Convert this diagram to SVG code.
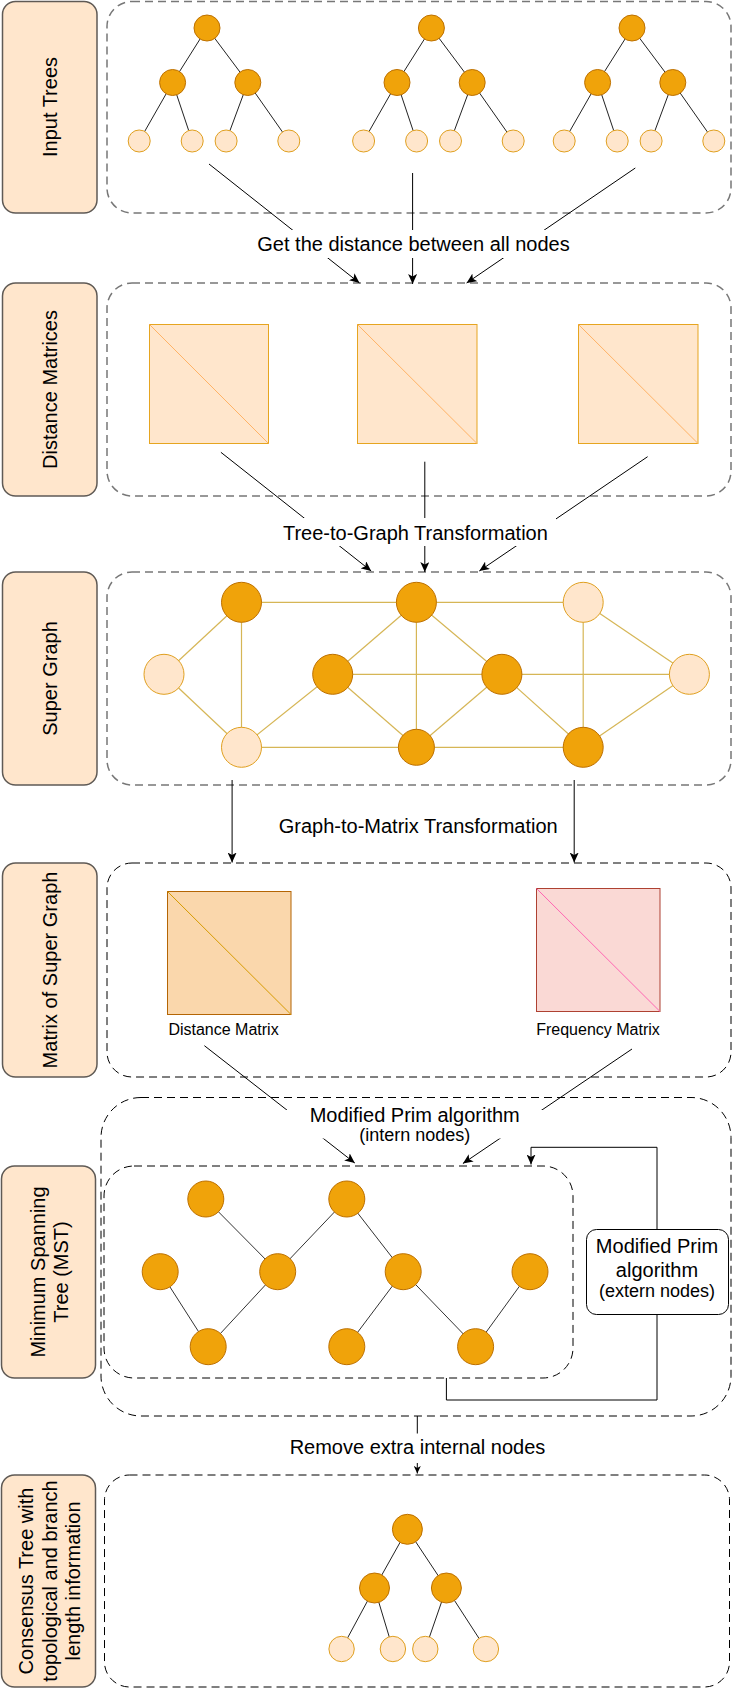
<svg xmlns="http://www.w3.org/2000/svg" width="733" height="1688" viewBox="0 0 733 1688">
<style>
text{font-family:"Liberation Sans",Arial,sans-serif;fill:#000}
.lbl{fill:#ffe6cc;stroke:#5f5a55;stroke-width:1.5}
.cg{fill:none;stroke:#777;stroke-width:1.5;stroke-dasharray:8 5}
.cb{fill:none;stroke:#000;stroke-width:1;stroke-dasharray:8 5}
.dk{fill:#f0a30a;stroke:#bd7000;stroke-width:1}
.lt{fill:#ffe6cc;stroke:#e0a020;stroke-width:1}
.te{stroke:#222;stroke-width:1}
.ge{stroke:#d6b656;stroke-width:1.2}
.me{stroke:#333;stroke-width:1}
.ar{fill:none;stroke:#000;stroke-width:1}
.t20{font-size:20px;text-anchor:middle}
.t18{font-size:18px;text-anchor:middle}
.t16{font-size:16px;text-anchor:middle}
</style>
<defs>
<marker id="ah" markerWidth="11" markerHeight="9" refX="10" refY="4.5" orient="auto" markerUnits="userSpaceOnUse">
<path d="M0,0 L10,4.5 L0,9 L2.5,4.5 Z" fill="#000"/>
</marker>
<marker id="ahs" markerWidth="8" markerHeight="7" refX="7.5" refY="3.5" orient="auto" markerUnits="userSpaceOnUse">
<path d="M0,0 L7.5,3.5 L0,7 L2,3.5 Z" fill="#000"/>
</marker>
</defs>
<rect width="733" height="1688" fill="#fff"/>

<!-- Stage labels -->
<g id="label-input">
<rect class="lbl" x="2.5" y="1.5" width="94.5" height="211.5" rx="13"/>
<text class="t20" transform="translate(49.5,107) rotate(-90)" y="7">Input Trees</text>
</g>
<g id="label-distance">
<rect class="lbl" x="2.5" y="283" width="94.5" height="213" rx="13"/>
<text class="t20" transform="translate(49.5,389.5) rotate(-90)" y="7">Distance Matrices</text>
</g>
<g id="label-super">
<rect class="lbl" x="2.5" y="572" width="94.5" height="213" rx="13"/>
<text class="t20" transform="translate(49.5,678.5) rotate(-90)" y="7">Super Graph</text>
</g>
<g id="label-matrix">
<rect class="lbl" x="2.5" y="863" width="94.5" height="214" rx="13"/>
<text class="t20" transform="translate(49.5,970) rotate(-90)" y="7">Matrix of Super Graph</text>
</g>
<g id="label-mst">
<rect class="lbl" x="1.5" y="1166" width="94" height="212" rx="13"/>
<text class="t20" transform="translate(48.5,1272) rotate(-90)"><tspan x="0" y="-4">Minimum Spanning</tspan><tspan x="0" y="19.5">Tree (MST)</tspan></text>
</g>
<g id="label-consensus">
<rect class="lbl" x="1.5" y="1475" width="94" height="212" rx="13"/>
<text class="t20" transform="translate(49,1581) rotate(-90)"><tspan x="0" y="-16">Consensus Tree with</tspan><tspan x="0" y="7.5">topological and branch</tspan><tspan x="0" y="31">length information</tspan></text>
</g>

<!-- Containers -->
<g id="container-input"><rect class="cg" x="107" y="1.5" width="624" height="211.5" rx="25"/></g>
<g id="container-distance"><rect class="cg" x="107" y="283" width="624" height="213" rx="25"/></g>
<g id="container-super"><rect class="cg" x="107" y="572" width="624" height="213" rx="25"/></g>
<g id="container-matrix"><rect class="cb" x="107" y="863" width="624" height="214" rx="25"/></g>
<g id="container-mst-outer"><rect class="cb" x="101" y="1097.5" width="630" height="318.5" rx="40"/></g>
<g id="container-mst-inner"><rect class="cb" x="104" y="1166" width="469" height="212" rx="30"/></g>
<g id="container-consensus"><rect class="cb" x="104.5" y="1475" width="625" height="212" rx="25"/></g>

<!-- Input trees -->
<g id="tree1">
<line class="te" x1="207" y1="28" x2="172.6" y2="82.5"/><line class="te" x1="207" y1="28" x2="247.8" y2="82.5"/>
<line class="te" x1="172.6" y1="82.5" x2="139.2" y2="141"/><line class="te" x1="172.6" y1="82.5" x2="192.2" y2="141"/>
<line class="te" x1="247.8" y1="82.5" x2="226.1" y2="141"/><line class="te" x1="247.8" y1="82.5" x2="288.8" y2="141"/>
<circle class="dk" cx="207" cy="28" r="13"/><circle class="dk" cx="172.6" cy="82.5" r="13"/><circle class="dk" cx="247.8" cy="82.5" r="13"/>
<circle class="lt" cx="139.2" cy="141" r="11"/><circle class="lt" cx="192.2" cy="141" r="11"/><circle class="lt" cx="226.1" cy="141" r="11"/><circle class="lt" cx="288.8" cy="141" r="11"/>
</g>
<g id="tree2">
<line class="te" x1="431.4" y1="28" x2="397" y2="82.5"/><line class="te" x1="431.4" y1="28" x2="472.2" y2="82.5"/>
<line class="te" x1="397" y1="82.5" x2="363.6" y2="141"/><line class="te" x1="397" y1="82.5" x2="416.6" y2="141"/>
<line class="te" x1="472.2" y1="82.5" x2="450.5" y2="141"/><line class="te" x1="472.2" y1="82.5" x2="513.2" y2="141"/>
<circle class="dk" cx="431.4" cy="28" r="13"/><circle class="dk" cx="397" cy="82.5" r="13"/><circle class="dk" cx="472.2" cy="82.5" r="13"/>
<circle class="lt" cx="363.6" cy="141" r="11"/><circle class="lt" cx="416.6" cy="141" r="11"/><circle class="lt" cx="450.5" cy="141" r="11"/><circle class="lt" cx="513.2" cy="141" r="11"/>
</g>
<g id="tree3">
<line class="te" x1="632" y1="28" x2="597.6" y2="82.5"/><line class="te" x1="632" y1="28" x2="672.8" y2="82.5"/>
<line class="te" x1="597.6" y1="82.5" x2="564.2" y2="141"/><line class="te" x1="597.6" y1="82.5" x2="617.2" y2="141"/>
<line class="te" x1="672.8" y1="82.5" x2="651.1" y2="141"/><line class="te" x1="672.8" y1="82.5" x2="713.8" y2="141"/>
<circle class="dk" cx="632" cy="28" r="13"/><circle class="dk" cx="597.6" cy="82.5" r="13"/><circle class="dk" cx="672.8" cy="82.5" r="13"/>
<circle class="lt" cx="564.2" cy="141" r="11"/><circle class="lt" cx="617.2" cy="141" r="11"/><circle class="lt" cx="651.1" cy="141" r="11"/><circle class="lt" cx="713.8" cy="141" r="11"/>
</g>

<!-- Distance matrices -->
<g id="dm1"><rect x="149.5" y="324.5" width="119" height="119" fill="#ffe6cc" stroke="#e6a520"/><line x1="149.5" y1="324.5" x2="268.5" y2="443.5" stroke="#ffb366"/></g>
<g id="dm2"><rect x="357.5" y="324.5" width="119.5" height="119" fill="#ffe6cc" stroke="#e6a520"/><line x1="357.5" y1="324.5" x2="477" y2="443.5" stroke="#ffb366"/></g>
<g id="dm3"><rect x="578.5" y="324.5" width="119.5" height="119" fill="#ffe6cc" stroke="#e6a520"/><line x1="578.5" y1="324.5" x2="698" y2="443.5" stroke="#ffb366"/></g>

<!-- Super graph -->
<g id="super-graph-edges">
<line class="ge" x1="241.5" y1="602.3" x2="583.2" y2="602.3"/>
<line class="ge" x1="241.5" y1="602.3" x2="164" y2="674.3"/>
<line class="ge" x1="241.5" y1="602.3" x2="241.5" y2="747.3"/>
<line class="ge" x1="164" y1="674.3" x2="241.5" y2="747.3"/>
<line class="ge" x1="241.5" y1="747.3" x2="583.2" y2="747.3"/>
<line class="ge" x1="241.5" y1="747.3" x2="332.7" y2="674.3"/>
<line class="ge" x1="332.7" y1="674.3" x2="416.4" y2="602.3"/>
<line class="ge" x1="332.7" y1="674.3" x2="689.4" y2="674.3"/>
<line class="ge" x1="332.7" y1="674.3" x2="416.4" y2="747.3"/>
<line class="ge" x1="416.4" y1="602.3" x2="416.4" y2="747.3"/>
<line class="ge" x1="416.4" y1="602.3" x2="501.9" y2="674.3"/>
<line class="ge" x1="501.9" y1="674.3" x2="416.4" y2="747.3"/>
<line class="ge" x1="501.9" y1="674.3" x2="583.2" y2="747.3"/>
<line class="ge" x1="583.2" y1="602.3" x2="583.2" y2="747.3"/>
<line class="ge" x1="583.2" y1="602.3" x2="689.4" y2="674.3"/>
<line class="ge" x1="689.4" y1="674.3" x2="583.2" y2="747.3"/>
</g>
<g id="sg-a"><circle class="dk" cx="241.5" cy="602.3" r="20"/></g>
<g id="sg-b"><circle class="dk" cx="416.4" cy="602.3" r="20"/></g>
<g id="sg-c"><circle class="lt" cx="583.2" cy="602.3" r="20"/></g>
<g id="sg-d"><circle class="lt" cx="164" cy="674.3" r="20"/></g>
<g id="sg-e"><circle class="dk" cx="332.7" cy="674.3" r="20"/></g>
<g id="sg-f"><circle class="dk" cx="501.9" cy="674.3" r="20"/></g>
<g id="sg-g"><circle class="lt" cx="689.4" cy="674.3" r="20"/></g>
<g id="sg-h"><circle class="lt" cx="241.5" cy="747.3" r="20"/></g>
<g id="sg-i"><circle class="dk" cx="416.4" cy="747.3" r="18"/></g>
<g id="sg-j"><circle class="dk" cx="583.2" cy="747.3" r="20"/></g>

<!-- Matrices of super graph -->
<g id="distance-matrix">
<rect x="167.5" y="891.5" width="123.5" height="123" fill="#fad7ac" stroke="#b46504"/>
<line x1="167.5" y1="891.5" x2="291" y2="1014.5" stroke="#d79b00"/>
<text class="t16" x="223.5" y="1035">Distance Matrix</text>
</g>
<g id="frequency-matrix">
<rect x="536.5" y="888.5" width="123.5" height="123" fill="#fad9d5" stroke="#ae4132"/>
<line x1="536.5" y1="888.5" x2="660" y2="1011.5" stroke="#ff66b3"/>
<text class="t16" x="598" y="1035">Frequency Matrix</text>
</g>

<!-- MST -->
<g id="mst-edges">
<line class="me" x1="205.8" y1="1199" x2="277.7" y2="1271.7"/>
<line class="me" x1="277.7" y1="1271.7" x2="346.8" y2="1199"/>
<line class="me" x1="346.8" y1="1199" x2="403.2" y2="1271.7"/>
<line class="me" x1="160.2" y1="1271.7" x2="208.2" y2="1346.7"/>
<line class="me" x1="208.2" y1="1346.7" x2="277.7" y2="1271.7"/>
<line class="me" x1="403.2" y1="1271.7" x2="346.8" y2="1346.7"/>
<line class="me" x1="403.2" y1="1271.7" x2="475.6" y2="1346.7"/>
<line class="me" x1="475.6" y1="1346.7" x2="530" y2="1271.7"/>
</g>
<g id="mst-n1"><circle class="dk" cx="205.8" cy="1199" r="18"/></g>
<g id="mst-n2"><circle class="dk" cx="346.8" cy="1199" r="18"/></g>
<g id="mst-n3"><circle class="dk" cx="160.2" cy="1271.7" r="18"/></g>
<g id="mst-n4"><circle class="dk" cx="277.7" cy="1271.7" r="18"/></g>
<g id="mst-n5"><circle class="dk" cx="403.2" cy="1271.7" r="18"/></g>
<g id="mst-n6"><circle class="dk" cx="530" cy="1271.7" r="18"/></g>
<g id="mst-n7"><circle class="dk" cx="208.2" cy="1346.7" r="18"/></g>
<g id="mst-n8"><circle class="dk" cx="346.8" cy="1346.7" r="18"/></g>
<g id="mst-n9"><circle class="dk" cx="475.6" cy="1346.7" r="18"/></g>

<!-- Consensus tree -->
<g id="consensus-tree">
<line class="te" x1="407.4" y1="1529.3" x2="374.5" y2="1588"/><line class="te" x1="407.4" y1="1529.3" x2="446.4" y2="1588"/>
<line class="te" x1="374.5" y1="1588" x2="341.6" y2="1649"/><line class="te" x1="374.5" y1="1588" x2="392.9" y2="1649"/>
<line class="te" x1="446.4" y1="1588" x2="425.3" y2="1649"/><line class="te" x1="446.4" y1="1588" x2="485.9" y2="1649"/>
<circle class="dk" cx="407.4" cy="1529.3" r="15"/><circle class="dk" cx="374.5" cy="1588" r="15"/><circle class="dk" cx="446.4" cy="1588" r="15"/>
<circle class="lt" cx="341.6" cy="1649" r="12.7"/><circle class="lt" cx="392.9" cy="1649" r="12.7"/><circle class="lt" cx="425.3" cy="1649" r="12.7"/><circle class="lt" cx="485.9" cy="1649" r="12.7"/>
</g>

<!-- Connectors -->
<g id="connectors">
<line class="ar" x1="209" y1="164" x2="359.5" y2="283" marker-end="url(#ah)"/>
<line class="ar" x1="412.6" y1="173" x2="412.6" y2="284" marker-end="url(#ah)"/>
<line class="ar" x1="635.3" y1="168" x2="466.6" y2="283" marker-end="url(#ah)"/>
<rect x="252" y="230" width="324" height="28" fill="#fff"/>
<text class="t20" x="413.5" y="251">Get the distance between all nodes</text>

<line class="ar" x1="220.9" y1="452.3" x2="371.2" y2="571" marker-end="url(#ah)"/>
<line class="ar" x1="424.8" y1="461.7" x2="424.8" y2="572" marker-end="url(#ah)"/>
<line class="ar" x1="647.6" y1="456.7" x2="479.3" y2="571" marker-end="url(#ah)"/>
<rect x="276" y="518" width="280" height="28" fill="#fff"/>
<text class="t20" x="415.4" y="540">Tree-to-Graph Transformation</text>

<line class="ar" x1="232.1" y1="780" x2="232.1" y2="862.5" marker-end="url(#ah)"/>
<line class="ar" x1="574.2" y1="780" x2="574.2" y2="862.5" marker-end="url(#ah)"/>
<text class="t20" x="418.2" y="832.7">Graph-to-Matrix Transformation</text>

<line class="ar" x1="204.4" y1="1045.7" x2="354.8" y2="1163" marker-end="url(#ah)"/>
<line class="ar" x1="632" y1="1049" x2="462.9" y2="1163.5" marker-end="url(#ah)"/>
<rect x="285" y="1110" width="260" height="28.5" fill="#fff"/>
<text class="t20" x="414.7" y="1121.7">Modified Prim algorithm</text>
<text class="t18" x="414.7" y="1141">(intern nodes)</text>

<path class="ar" d="M446.4,1378 V1400 H657 V1147.3 H531 V1164.5" marker-end="url(#ah)"/>

<line class="ar" x1="417.3" y1="1416" x2="417.3" y2="1473.5" marker-end="url(#ahs)"/>
<rect x="285" y="1433.5" width="265" height="29.5" fill="#fff"/>
<text class="t20" x="417.5" y="1454.3">Remove extra internal nodes</text>
</g>

<g id="extern-box">
<rect x="586.5" y="1229.5" width="142" height="85" rx="10" fill="#fff" stroke="#000"/>
<text class="t20" x="657" y="1253.3">Modified Prim</text>
<text class="t20" x="657" y="1276.7">algorithm</text>
<text class="t18" x="657" y="1297">(extern nodes)</text>
</g>
</svg>
